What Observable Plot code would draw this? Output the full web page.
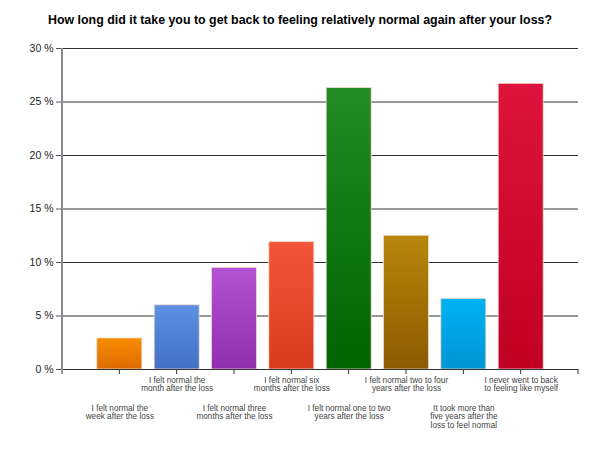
<!DOCTYPE html>
<html><head><meta charset="utf-8">
<script src="https://cdn.jsdelivr.net/npm/d3@7"></script>
<script src="https://cdn.jsdelivr.net/npm/@observablehq/plot@0.6"></script>
<style>
body{margin:0;background:#fff;font-family:"Liberation Sans",Arial,sans-serif;}
#title{height:40px;line-height:41px;text-align:center;font-weight:bold;font-size:12.4px;color:#000;width:600px;}
</style></head>
<body>
<div id="title">How long did it take you to get back to feeling relatively normal again after your loss?</div>
<div id="chart"></div>
<script>
const categories = [
  "I felt normal the\nweek after the loss",
  "I felt normal the\nmonth after the loss",
  "I felt normal three\nmonths after the loss",
  "I felt normal six\nmonths after the loss",
  "I felt normal one to two\nyears after the loss",
  "I felt normal two to four\nyears after the loss",
  "It took more than\nfive years after the\nloss to feel normal",
  "I never went to back\nto feeling like myself"
];
const values = [2.9, 6.0, 9.5, 11.9, 26.3, 12.5, 6.6, 26.7];
const topColors = ["#f88c02", "#5d91e4", "#b352d2", "#f35538", "#238c23", "#b8860b", "#00b2f2", "#dd143d"];
const bottomColors = ["#de6a00", "#4270c6", "#8f2eae", "#d83c1d", "#006400", "#8c5b00", "#0095d6", "#c00022"];
const yTicks = [0, 5, 10, 15, 20, 25, 30];

const data = categories.map((c, i) => ({cat: c, value: values[i], idx: i}));

const plot = Plot.plot({
  width: 600,
  height: 410,
  marginLeft: 62,
  marginRight: 22,
  marginTop: 8,
  marginBottom: 81,
  style: {fontFamily: "'Liberation Sans', Arial, sans-serif", background: "#fff"},
  x: {domain: categories, paddingInner: 0.215, paddingOuter: 0.6075, round: false, axis: null},
  y: {domain: [0, 30], axis: null},
  marks: [
    Plot.gridY(yTicks, {stroke: "#333", strokeOpacity: 1, strokeWidth: 1}),
    Plot.barY(data, {x: "cat", y: "value", fill: d => `url(#grad${d.idx})`, stroke: "#f2dcd0", strokeWidth: 0.8}),
    Plot.axisY(yTicks, {tickFormat: d => d + " %", tickSize: 6, tickPadding: 3, fontSize: 10.5, fill: "#222", stroke: "#555", label: null}),
    Plot.ruleY([0], {stroke: "#333", strokeWidth: 1.2}),
    Plot.tickX(data, {x: "cat", y1: 0, y2: 0, stroke: "#333", render: (index, scales, values, dims, ctx) => {
      const g = d3.create("svg:g");
      const yb = dims.height - dims.marginBottom;
      for (const i of index) {
        const x = scales.x(data[i].cat) + scales.x.bandwidth() / 2;
        g.append("line").attr("x1", x).attr("x2", x).attr("y1", yb).attr("y2", yb + 5).attr("stroke", "#333");
      }
      const [r0, r1] = [dims.marginLeft, dims.width - dims.marginRight];
      for (const x of [r0, r1]) g.append("line").attr("x1", x).attr("x2", x).attr("y1", yb).attr("y2", yb + 5).attr("stroke", "#333");
      g.append("line").attr("x1", r0).attr("x2", r0).attr("y1", dims.marginTop).attr("y2", yb + 1).attr("stroke", "#8a8a8a").attr("stroke-width", 2);
      return g.node();
    }}),
    Plot.text(data.filter(d => d.idx % 2 === 1), {x: "cat", text: "cat", frameAnchor: "bottom", lineAnchor: "top", dy: 7, fontSize: 8.2, lineHeight: 1.05, fill: "#444"}),
    Plot.text(data.filter(d => d.idx % 2 === 0), {x: "cat", text: "cat", frameAnchor: "bottom", lineAnchor: "top", dy: 35, fontSize: 8.2, lineHeight: 1.05, fill: "#444"})
  ]
});

const svg = d3.select(plot);
const defs = svg.insert("defs", ":first-child");
topColors.forEach((c, i) => {
  const lg = defs.append("linearGradient").attr("id", "grad" + i).attr("x1", 0).attr("y1", 0).attr("x2", 0).attr("y2", 1);
  lg.append("stop").attr("offset", "0%").attr("stop-color", c);
  lg.append("stop").attr("offset", "100%").attr("stop-color", bottomColors[i]);
});
document.getElementById("chart").appendChild(plot);
</script>
</body></html>
